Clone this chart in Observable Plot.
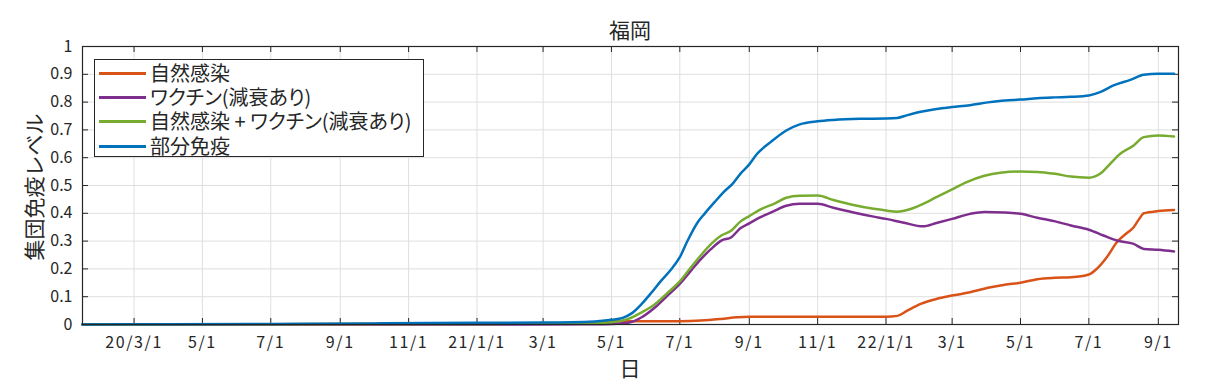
<!DOCTYPE html>
<html>
<head>
<meta charset="utf-8">
<script src="https://cdn.jsdelivr.net/npm/d3@7"></script>
<script src="https://cdn.jsdelivr.net/npm/@observablehq/plot@0.6"></script>
<style>
  body { margin: 0; background: #ffffff; }
  #wrap { position: relative; width: 1212px; height: 391px; font-family: "Noto Sans CJK JP", "Noto Sans", sans-serif; color: #262626; overflow: hidden; }
  #wrap svg { position: absolute; left: 0; top: 0; }
  .ov { position: absolute; white-space: nowrap; line-height: 1; }
  #title { left: 530px; width: 200px; top: 19px; text-align: center; font-size: 21px; }
  #xlabel { left: 580px; width: 100px; top: 357px; text-align: center; font-size: 21px; }
  #ylabel { left: 33px; top: 187px; font-size: 21px; transform: translate(-50%, -50%) rotate(-90deg); }
  #legend { left: 94px; top: 59px; width: 330px; height: 98px; box-sizing: border-box; border: 1px solid #262626; background: #ffffff; }
  .row { position: absolute; left: 0; height: 24px; width: 100%; }
  .row .sw { position: absolute; left: 4px; top: 11px; width: 47px; height: 0; border-top: 3px solid; }
  .row .tx { position: absolute; left: 55px; top: 2px; font-size: 20px; font-feature-settings: "palt"; line-height: 1; }
  svg g[aria-label="x-axis tick label"] text { letter-spacing: 1.6px; }
</style>
</head>
<body>
<div id="wrap"></div>
<script>
// ---------- data ----------
const seriesNames = ["自然感染", "ワクチン(減衰あり)", "自然感染 + ワクチン(減衰あり)", "部分免疫"];
const seriesColors = ["#D95319", "#7E2F8E", "#77AC30", "#0072BD"];

const naturalDates = ["2020-01-15","2020-07-01","2021-01-01","2021-04-01","2021-04-20","2021-05-01","2021-05-16","2021-07-01","2021-07-20","2021-08-07","2021-08-21","2021-09-01","2021-11-01","2022-01-01","2022-01-11","2022-01-20","2022-02-01","2022-02-15","2022-03-01","2022-03-17","2022-04-02","2022-04-17","2022-05-01","2022-05-16","2022-06-01","2022-06-15","2022-07-01","2022-07-08","2022-07-17","2022-07-26","2022-08-04","2022-08-10","2022-08-16","2022-08-19","2022-09-01","2022-09-15"];
const naturalValues = [0,0.001,0.002,0.004,0.008,0.011,0.012,0.012,0.014,0.020,0.026,0.028,0.028,0.028,0.031,0.050,0.074,0.092,0.104,0.116,0.132,0.143,0.150,0.163,0.168,0.170,0.180,0.200,0.242,0.296,0.329,0.350,0.386,0.400,0.408,0.412];

const vaccineDates = ["2020-01-15","2021-02-15","2021-04-15","2021-05-01","2021-05-16","2021-05-28","2021-06-09","2021-06-20","2021-07-01","2021-07-11","2021-07-20","2021-07-29","2021-08-07","2021-08-16","2021-08-24","2021-09-01","2021-09-11","2021-09-23","2021-10-04","2021-10-16","2021-11-01","2021-11-15","2021-12-03","2021-12-21","2022-01-01","2022-01-17","2022-02-03","2022-02-15","2022-03-01","2022-03-17","2022-03-30","2022-04-17","2022-05-01","2022-05-16","2022-06-01","2022-06-15","2022-07-01","2022-07-14","2022-07-26","2022-08-10","2022-08-19","2022-09-01","2022-09-15"];
const vaccineValues = [0,0,0.001,0.002,0.006,0.026,0.062,0.104,0.146,0.194,0.236,0.272,0.302,0.314,0.346,0.364,0.386,0.408,0.427,0.434,0.434,0.420,0.403,0.388,0.380,0.366,0.353,0.365,0.380,0.398,0.405,0.403,0.398,0.384,0.371,0.356,0.341,0.320,0.302,0.290,0.272,0.269,0.263];

const combinedDates = ["2020-01-15","2020-07-01","2021-01-01","2021-04-01","2021-05-01","2021-05-16","2021-05-28","2021-06-09","2021-06-20","2021-07-01","2021-07-11","2021-07-20","2021-07-29","2021-08-07","2021-08-16","2021-08-24","2021-09-01","2021-09-11","2021-09-23","2021-10-04","2021-10-16","2021-11-01","2021-11-15","2021-12-03","2021-12-21","2022-01-01","2022-01-11","2022-01-20","2022-02-01","2022-02-15","2022-03-01","2022-03-14","2022-03-29","2022-04-13","2022-05-01","2022-05-16","2022-06-01","2022-06-15","2022-07-01","2022-07-11","2022-07-20","2022-07-29","2022-08-10","2022-08-19","2022-09-01","2022-09-15"];
const combinedValues = [0,0.001,0.002,0.004,0.008,0.020,0.044,0.074,0.114,0.155,0.206,0.250,0.290,0.320,0.338,0.370,0.390,0.414,0.434,0.456,0.463,0.464,0.448,0.430,0.416,0.410,0.406,0.412,0.430,0.458,0.486,0.512,0.534,0.546,0.550,0.549,0.542,0.532,0.528,0.542,0.578,0.614,0.644,0.674,0.680,0.676];

const partialDates = ["2020-01-15","2020-04-01","2020-07-01","2020-10-01","2021-01-01","2021-03-01","2021-04-16","2021-05-01","2021-05-11","2021-05-19","2021-05-28","2021-06-06","2021-06-14","2021-06-23","2021-07-01","2021-07-08","2021-07-17","2021-07-23","2021-08-01","2021-08-10","2021-08-17","2021-08-24","2021-09-01","2021-09-08","2021-09-20","2021-10-04","2021-10-16","2021-11-01","2021-11-15","2021-12-09","2022-01-01","2022-01-11","2022-01-20","2022-02-01","2022-02-15","2022-03-01","2022-03-17","2022-04-02","2022-04-17","2022-05-01","2022-05-16","2022-06-01","2022-06-15","2022-07-01","2022-07-11","2022-07-23","2022-08-07","2022-08-19","2022-09-01","2022-09-15"];
const partialValues = [0,0.001,0.002,0.004,0.006,0.007,0.011,0.017,0.024,0.040,0.074,0.116,0.156,0.197,0.242,0.302,0.368,0.398,0.440,0.480,0.506,0.542,0.576,0.614,0.656,0.698,0.720,0.731,0.736,0.740,0.741,0.743,0.753,0.765,0.775,0.782,0.789,0.799,0.806,0.809,0.814,0.817,0.819,0.824,0.836,0.860,0.880,0.898,0.902,0.902];

const xTickDates = ["2020-03-01","2020-05-01","2020-07-01","2020-09-01","2020-11-01","2021-01-01","2021-03-01","2021-05-01","2021-07-01","2021-09-01","2021-11-01","2022-01-01","2022-03-01","2022-05-01","2022-07-01","2022-09-01"];
const xTickLabels = ["20/3/1","5/1","7/1","9/1","11/1","21/1/1","3/1","5/1","7/1","9/1","11/1","22/1/1","3/1","5/1","7/1","9/1"];
const yTicks = [0,0.1,0.2,0.3,0.4,0.5,0.6,0.7,0.8,0.9,1];
const yTickLabels = ["0","0.1","0.2","0.3","0.4","0.5","0.6","0.7","0.8","0.9","1"];
const xDomain = ["2020-01-15","2022-09-19"];

const titleText = "福岡";
const xLabelText = "日";
const yLabelText = "集団免疫レベル";

// ---------- build ----------
const parse = s => new Date(s + "T00:00:00Z");
const seriesDates = [naturalDates, vaccineDates, combinedDates, partialDates];
const seriesValues = [naturalValues, vaccineValues, combinedValues, partialValues];
const rows = [];
seriesNames.forEach((name, k) => {
  seriesDates[k].forEach((d, i) => rows.push({series: name, date: parse(d), value: seriesValues[k][i]}));
});
const xTicks = xTickDates.map(parse);
const xFmt = new Map(xTicks.map((d, i) => [+d, xTickLabels[i]]));
const yFmt = new Map(yTicks.map((v, i) => [v, yTickLabels[i]]));

const W = 1212, H = 391, mL = 82, mR = 34, mT = 46, mB = 67;
const plotW = W - mL - mR, plotH = H - mT - mB;
const ink = "#262626";
const gridColor = "#dfdfdf";

const chart = Plot.plot({
  width: W, height: H,
  marginLeft: mL, marginRight: mR, marginTop: mT, marginBottom: mB,
  style: {fontFamily: '"Noto Sans CJK JP", "Noto Sans", sans-serif', fontSize: "16px", color: ink, background: "transparent"},
  x: {type: "utc", domain: xDomain.map(parse)},
  y: {domain: [0, 1]},
  color: {domain: seriesNames, range: seriesColors},
  marks: [
    Plot.gridX(xTicks, {stroke: gridColor, strokeOpacity: 1, strokeWidth: 1}),
    Plot.gridY(yTicks, {stroke: gridColor, strokeOpacity: 1, strokeWidth: 1}),
    Plot.axisX(xTicks, {tickSize: 0, tickPadding: 12, tickFormat: d => xFmt.get(+d), label: null, fill: ink, fontSize: 16}),
    Plot.axisY(yTicks, {tickSize: 0, tickPadding: 10, tickFormat: v => yFmt.get(v), label: null, fill: ink, fontSize: 16}),
    Plot.ruleX(xTicks, {x: d => d, insetTop: plotH - 6, stroke: ink, strokeWidth: 1}),
    Plot.ruleX(xTicks, {x: d => d, insetBottom: plotH - 6, stroke: ink, strokeWidth: 1}),
    Plot.ruleY(yTicks, {y: d => d, insetRight: plotW - 6, stroke: ink, strokeWidth: 1}),
    Plot.ruleY(yTicks, {y: d => d, insetLeft: plotW - 6, stroke: ink, strokeWidth: 1}),
    Plot.lineY(rows, {x: "date", y: "value", z: "series", stroke: "series", strokeWidth: 2.5, curve: "monotone-x"}),
    Plot.frame({stroke: ink, strokeWidth: 1.2})
  ]
});

const wrap = document.getElementById("wrap");
wrap.appendChild(chart);

function addDiv(id, text) {
  const el = document.createElement("div");
  el.className = "ov"; el.id = id; el.textContent = text;
  wrap.appendChild(el);
  return el;
}
addDiv("title", titleText);
addDiv("xlabel", xLabelText);
addDiv("ylabel", yLabelText);

const legend = document.createElement("div");
legend.className = "ov"; legend.id = "legend";
seriesNames.forEach((name, k) => {
  const r = document.createElement("div");
  r.className = "row";
  r.style.top = (1 + k * 24.2) + "px";
  const sw = document.createElement("div");
  sw.className = "sw"; sw.style.borderTopColor = seriesColors[k];
  const tx = document.createElement("div");
  tx.className = "tx"; tx.textContent = name;
  r.appendChild(sw); r.appendChild(tx);
  legend.appendChild(r);
});
wrap.appendChild(legend);
</script>
</body>
</html>
